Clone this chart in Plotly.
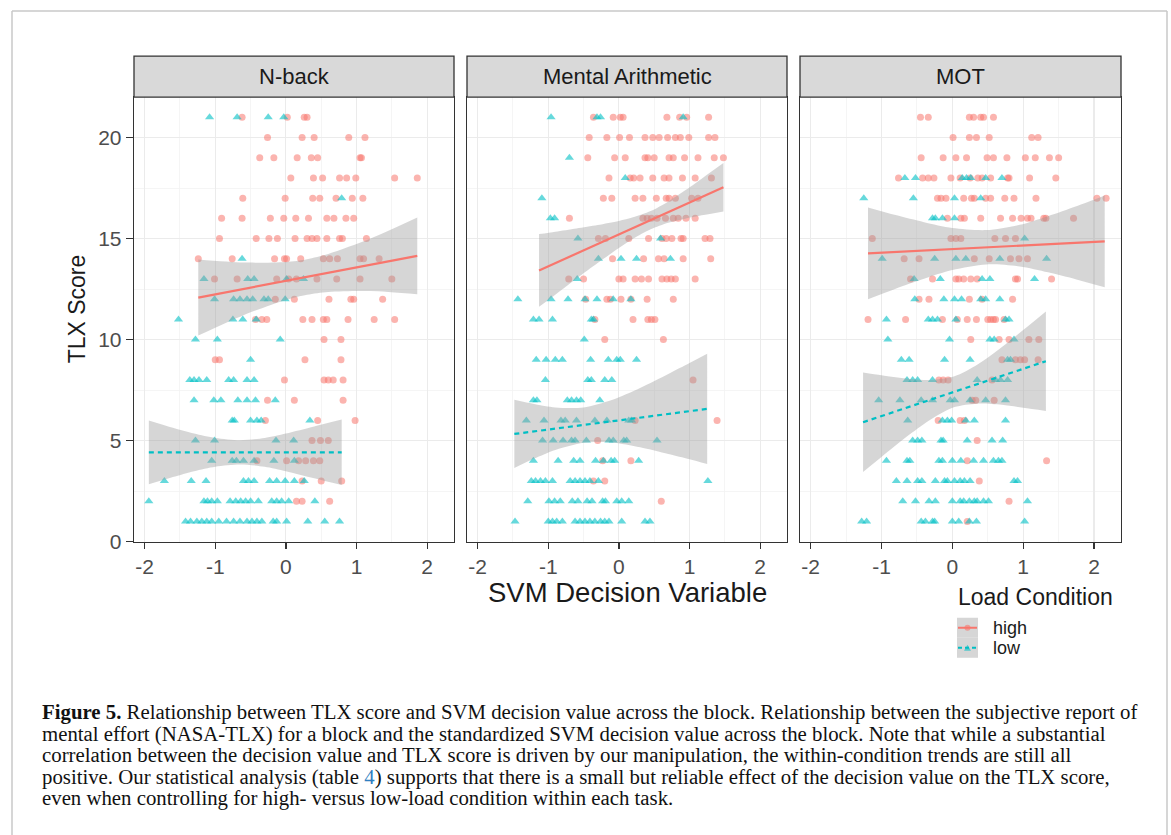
import plotly.graph_objects as go

W, H = 1171, 835          # reference picture size (target coordinates)
FIG_H = 847               # page height that the capture squeezes into 835 px

# ------------------------------------------------------------------ data
# points: {TLX score: [SVM decision values]}
NBACK_HIGH = {
    21: [-0.62, 0.02, 0.26, 0.30],
    20: [-0.26, 0.23, 0.40, 0.89, 1.12],
    19: [-0.37, -0.17, 0.16, 0.36, 0.45, 1.05, 1.07],
    18: [0.07, 0.39, 0.52, 0.76, 0.86, 0.99, 1.54, 1.86],
    17: [-0.61, -0.01, 0.38, 0.48, 0.71, 0.94, 1.09],
    16: [-0.91, -0.62, -0.22, -0.03, 0.14, 0.32, 0.58, 0.68, 0.85, 0.96],
    15: [-0.94, -0.42, -0.24, -0.12, 0.13, 0.30, 0.37, 0.44, 0.58, 0.76, 0.80, 1.14],
    14: [-1.24, -0.76, -0.16, -0.02, 0.01, 0.21, 0.53, 0.62, 0.73, 1.05, 1.10, 1.32],
    13: [-1.01, -0.69, -0.13, 0.04, 0.15, 0.44, 0.72, 1.05, 1.50],
    12: [-0.15, 0.12, 0.61, 0.92, 0.96, 1.37],
    11: [-0.43, -0.34, -0.27, 0.24, 0.37, 0.53, 0.58, 0.88, 1.25, 1.54],
    10: [0.54, 0.78],
    9: [-1.00, -0.94, 0.27, 0.78],
    8: [-0.02, 0.54, 0.60, 0.67, 0.81],
    7: [-0.26, 0.12, 0.81],
    6: [-0.29, 0.45, 0.98],
    5: [0.37, 0.49, 0.60],
    4: [-0.41, 0.01, 0.18, 0.28, 0.39, 0.48],
    3: [0.23, 0.50, 0.79],
    2: [0.15, 0.23, 0.62],
}
NBACK_LOW = {
    21: [-1.08, -0.69, -0.25, -0.03],
    17: [0.79],
    14: [-0.62],
    13: [-1.16, -0.54, -0.45, 0.01, 0.25],
    12: [-1.01, -0.74, -0.65, -0.55, -0.47, -0.31, -0.25, -0.01],
    11: [-1.52, -0.75, -0.61, -0.42],
    10: [-1.28, -0.97, -0.08],
    9: [-0.50],
    8: [-1.36, -1.30, -1.23, -1.12, -0.81, -0.74, -0.55, -0.45],
    7: [-1.30, -1.02, -0.92, -0.68, -0.55, -0.43, -0.15],
    6: [-0.76, -0.73, -0.50, -0.41, -0.35, 0.34],
    5: [-1.28, -1.01, -0.14, 0.11],
    4: [-1.05, -0.76, -0.70, -0.60, -0.45, -0.17, 0.12],
    3: [-1.72, -1.34, -1.13, -0.60, -0.53, -0.45, -0.23, -0.13, -0.01, 0.12, 0.26],
    2: [-1.94, -1.16, -1.11, -1.05, -0.97, -0.79, -0.71, -0.64, -0.57, -0.50,
        -0.39, -0.20, -0.13, -0.06, 0.04, 0.41],
    1: [-1.42, -1.35, -1.26, -1.19, -1.12, -1.05, -0.95, -0.84, -0.74, -0.65,
        -0.55, -0.48, -0.41, -0.34, -0.18, -0.13, 0.01, 0.31, 0.55, 0.76],
}
MA_HIGH = {
    21: [-0.36, -0.08, 0.02, 0.06, 0.68, 0.86, 0.96, 1.27],
    20: [-0.42, -0.17, 0.01, 0.15, 0.37, 0.48, 0.57, 0.69, 0.80, 0.87, 0.99, 1.27, 1.36],
    19: [-0.44, -0.06, 0.09, 0.37, 0.41, 0.50, 0.71, 0.77, 0.93, 1.12, 1.35, 1.48],
    18: [-0.14, 0.16, 0.21, 0.30, 0.48, 0.64, 0.71, 0.90, 1.08, 1.31],
    17: [-0.22, -0.10, 0.23, 0.34, 0.53, 0.67, 0.71, 0.80, 1.03, 1.12],
    16: [-0.70, 0.34, 0.40, 0.46, 0.54, 0.66, 0.77, 0.84, 0.95, 1.08],
    15: [-0.29, -0.19, 0.14, 0.42, 0.61, 0.67, 0.75, 0.88, 0.91, 1.22, 1.29],
    14: [-0.09, 0.35, 0.56, 0.64, 0.91, 1.30],
    13: [-0.71, -0.50, 0.00, 0.06, 0.23, 0.32, 0.42, 0.61, 0.68, 0.74, 0.80, 1.08],
    12: [-0.47, -0.17, -0.12, 0.03, 0.17, 0.40, 0.77],
    11: [-0.34, 0.20, 0.41, 0.46, 0.51],
    10: [-0.20, 0.63],
    8: [1.05],
    6: [0.23, 1.39],
    5: [-0.30],
    4: [-0.23, 0.17],
    3: [-0.36, -0.20],
    2: [0.60],
}
MA_LOW = {
    21: [-0.96, -0.31, -0.26, 0.91],
    19: [-0.70],
    18: [0.09],
    17: [-1.09],
    16: [-0.97, -0.91],
    15: [-0.58, 0.59],
    14: [-0.29, 0.03, 0.25, 0.73],
    13: [-0.59],
    12: [-1.43, -0.96, -0.72, -0.48, -0.31, -0.08, 0.17],
    11: [-1.21, -1.13, -0.94, -0.39, -0.36],
    10: [-0.49],
    9: [-1.17, -1.03, -0.90, -0.80, -0.40, -0.15, -0.03, 0.02, 0.25],
    8: [-1.04, -0.44, -0.39, -0.20, -0.10],
    7: [-1.21, -1.16, -0.73, -0.67, -0.60, -0.54, -0.27],
    6: [-1.31, -1.06, -0.82, -0.76, -0.60, -0.34, -0.17, 0.14, 0.18],
    5: [-1.08, -0.93, -0.79, -0.67, -0.62, -0.46, -0.14, -0.08, 0.07, 0.11, 0.54],
    4: [-1.21, -0.86, -0.64, -0.55, -0.33, -0.22, -0.11, -0.06, 0.28],
    3: [-1.24, -1.18, -1.11, -1.04, -0.94, -0.69, -0.62, -0.55, -0.48, -0.41, -0.29, 1.26],
    2: [-1.29, -0.99, -0.91, -0.83, -0.66, -0.58, -0.45, -0.38, -0.23, -0.19, -0.03, 0.04, 0.14],
    1: [-1.47, -1.00, -0.94, -0.88, -0.80, -0.62, -0.55, -0.48, -0.41, -0.34, -0.26,
        -0.20, -0.14, 0.04, 0.37, 0.44],
}
MOT_HIGH = {
    21: [-0.45, -0.34, 0.24, 0.30, 0.40, 0.44, 0.58],
    20: [0.01, 0.24, 0.34, 0.52, 1.12, 1.21],
    19: [-0.44, -0.13, 0.05, 0.20, 0.49, 0.58, 0.77, 1.03, 1.17, 1.37, 1.50],
    18: [-0.76, -0.42, -0.34, -0.26, -0.02, 0.11, 0.25, 0.36, 0.42, 0.54, 0.78, 0.80, 1.09, 1.46],
    17: [-0.21, -0.16, -0.09, 0.16, 0.27, 0.31, 0.47, 0.54, 0.74, 0.87, 1.18, 2.04, 2.17],
    16: [-0.07, 0.12, 0.17, 0.40, 0.68, 0.85, 0.97, 1.06, 1.11, 1.29, 1.32, 1.71],
    15: [-1.13, -0.02, 0.05, 0.12, 0.60, 0.75, 0.89],
    14: [-0.68, -0.47, 0.31, 0.52, 0.82, 0.94, 1.06],
    13: [-0.59, -0.28, 0.05, 0.09, 0.16, 0.26, 0.35, 0.89, 0.92, 1.40],
    12: [-0.47, -0.33, 0.24, 0.42, 0.85],
    11: [-1.19, -0.66, -0.14, 0.07, 0.21, 0.34, 0.50, 0.54, 0.58, 0.61, 0.73],
    10: [0.26, 0.66, 0.80, 1.08, 1.22],
    9: [0.70, 0.89, 0.96, 1.02, 1.21],
    8: [-0.19, -0.13, -0.06, 0.56],
    7: [0.28, 0.33, 0.59],
    6: [-0.20, 0.11, 0.17],
    5: [0.35],
    4: [0.21, 1.33],
    3: [0.38],
    2: [0.80],
    1: [0.21],
}
MOT_LOW = {
    18: [-0.67, -0.52, 0.14, 0.20, 0.26, 0.47, 0.70],
    17: [-1.25, -0.55, 0.03, 0.40],
    16: [-0.28, -0.24, -0.14, 0.03],
    15: [1.02],
    14: [-0.99, -0.25, 0.05, 0.19, 0.67, 1.33],
    13: [-0.54, -0.17, 0.42, 0.53, 1.16],
    12: [-0.53, -0.12, 0.03, 0.13, 0.40, 0.47, 0.67],
    11: [-0.93, -0.34, -0.28, -0.21, 0.05, 0.75, 0.80],
    10: [-0.91, -0.04, 0.53, 0.59, 0.87],
    9: [-0.72, -0.61, -0.11, 0.25, 0.78, 0.82],
    8: [-0.64, -0.56, -0.49, -0.28, 0.35, 0.61, 0.68, 0.78],
    7: [-1.04, -0.74, -0.44, -0.28, -0.03, 0.03, 0.25, 0.47, 0.75],
    6: [-0.63, -0.14, -0.07, -0.01, 0.19, 0.31, 0.75],
    5: [-0.56, -0.49, -0.43, -0.16, -0.13, 0.21, 0.56, 0.71],
    4: [-0.93, -0.64, -0.60, -0.19, -0.14, 0.00, 0.12, 0.30, 0.44, 0.58, 0.65, 0.70],
    3: [-0.79, -0.64, -0.49, -0.43, -0.24, -0.11, -0.07, 0.03, 0.11, 0.17, 0.25, 0.87, 0.92],
    2: [-0.70, -0.52, -0.33, -0.24, 0.00, 0.11, 0.16, 0.24, 0.31, 0.35, 0.44, 0.51, 1.06],
    1: [-1.28, -1.21, -0.44, -0.38, -0.28, -0.25, 0.00, 0.09, 0.24, 0.34, 1.02],
}

# fitted lines (lm) and 95% confidence bands
NBACK_HIGH_FIT_X = [-1.24, 1.86]
NBACK_HIGH_FIT_Y = [12.08, 14.14]
NBACK_HIGH_BAND_X = [-1.24, -0.6, 0.0, 0.3, 0.6, 1.2, 1.86]
NBACK_HIGH_BAND_LO = [10.20, 11.21, 11.96, 12.22, 12.36, 12.40, 12.24]
NBACK_HIGH_BAND_HI = [13.96, 13.81, 13.84, 13.98, 14.24, 15.00, 16.04]

NBACK_LOW_FIT_X = [-1.94, 0.79]
NBACK_LOW_FIT_Y = [4.42, 4.42]
NBACK_LOW_BAND_X = [-1.94, -1.6, -1.3, -1.0, -0.65, -0.3, 0.0, 0.4, 0.79]
NBACK_LOW_BAND_LO = [2.84, 3.20, 3.49, 3.71, 3.82, 3.71, 3.49, 3.14, 2.80]
NBACK_LOW_BAND_HI = [6.00, 5.64, 5.35, 5.13, 5.02, 5.13, 5.35, 5.70, 6.04]

MA_HIGH_FIT_X = [-1.13, 1.48]
MA_HIGH_FIT_Y = [13.42, 17.54]
MA_HIGH_BAND_X = [-1.13, -0.9, -0.6, -0.3, 0.0, 0.2, 0.45, 0.7, 0.95, 1.2, 1.48]
MA_HIGH_BAND_LO = [11.62, 12.22, 13.02, 13.79, 14.53, 14.99, 15.46, 15.78, 15.99, 16.16, 16.34]
MA_HIGH_BAND_HI = [15.22, 15.34, 15.50, 15.67, 15.87, 16.05, 16.36, 16.84, 17.41, 18.04, 18.74]

MA_LOW_FIT_X = [-1.48, 1.25]
MA_LOW_FIT_Y = [5.33, 6.57]
MA_LOW_BAND_X = [-1.48, -1.2, -0.9, -0.5, -0.1, 0.3, 0.7, 1.0, 1.25]
MA_LOW_BAND_LO = [3.64, 4.11, 4.54, 4.90, 4.91, 4.67, 4.34, 4.08, 3.84]
MA_LOW_BAND_HI = [7.02, 6.81, 6.64, 6.64, 7.01, 7.61, 8.30, 8.84, 9.30]

MOT_HIGH_FIT_X = [-1.19, 2.15]
MOT_HIGH_FIT_Y = [14.27, 14.86]
MOT_HIGH_BAND_X = [-1.19, -0.8, -0.4, 0.0, 0.48, 0.95, 1.35, 1.75, 2.15]
MOT_HIGH_BAND_LO = [12.00, 12.52, 13.01, 13.44, 13.72, 13.62, 13.33, 12.98, 12.59]
MOT_HIGH_BAND_HI = [16.54, 16.16, 15.81, 15.52, 15.42, 15.68, 16.11, 16.60, 17.13]

MOT_LOW_FIT_X = [-1.26, 1.32]
MOT_LOW_FIT_Y = [5.91, 8.93]
MOT_LOW_BAND_X = [-1.26, -1.0, -0.6, -0.3, 0.03, 0.35, 0.7, 1.0, 1.32]
MOT_LOW_BAND_LO = [3.45, 4.19, 5.31, 6.06, 6.66, 6.83, 6.77, 6.63, 6.47]
MOT_LOW_BAND_HI = [8.37, 8.23, 8.05, 8.00, 8.18, 8.75, 9.63, 10.47, 11.39]

PANEL_TITLES = ["N-back", "Mental Arithmetic", "MOT"]
X_TICKS = [-2, -1, 0, 1, 2]
Y_TICKS = [0, 5, 10, 15, 20]
LEGEND_LABELS = ["high", "low"]

CAPTION = [
    "<b>Figure 5.</b> Relationship between TLX score and SVM decision value across the block. "
    "Relationship between the subjective report of",
    "mental effort (NASA-TLX) for a block and the standardized SVM decision value across the block. "
    "Note that while a substantial",
    "correlation between the decision value and TLX score is driven by our manipulation, "
    "the within-condition trends are still all",
    "positive. Our statistical analysis (table <span style='color:#2f7fc1'>4</span>) supports that "
    "there is a small but reliable effect of the decision value on the TLX score,",
    "even when controlling for high- versus low-load condition within each task.",
]

# ------------------------------------------------------------------ style
HIGH_C = "#F8766D"
LOW_C = "#00BFC4"
BAND_C = "rgba(153,153,153,0.4)"
SANS = "Liberation Sans, Arial, sans-serif"
SERIF = "Liberation Serif, Times New Roman, serif"
XR = [-2.15, 2.38]
YR = [0, 22]

PANEL_PX = [(134, 454), (467, 787), (800, 1121)]
PANEL_TOP, PANEL_BOT, STRIP_TOP = 97, 541, 56


def px(x):
    return x / W


def py(y):
    return (H - y) / H


def rows_to_xy(rows):
    xs, ys = [], []
    for score, vals in rows.items():
        for v in vals:
            xs.append(v)
            ys.append(score)
    return xs, ys


panels = [
    (NBACK_HIGH, NBACK_LOW,
     (NBACK_HIGH_FIT_X, NBACK_HIGH_FIT_Y, NBACK_HIGH_BAND_X, NBACK_HIGH_BAND_LO, NBACK_HIGH_BAND_HI),
     (NBACK_LOW_FIT_X, NBACK_LOW_FIT_Y, NBACK_LOW_BAND_X, NBACK_LOW_BAND_LO, NBACK_LOW_BAND_HI)),
    (MA_HIGH, MA_LOW,
     (MA_HIGH_FIT_X, MA_HIGH_FIT_Y, MA_HIGH_BAND_X, MA_HIGH_BAND_LO, MA_HIGH_BAND_HI),
     (MA_LOW_FIT_X, MA_LOW_FIT_Y, MA_LOW_BAND_X, MA_LOW_BAND_LO, MA_LOW_BAND_HI)),
    (MOT_HIGH, MOT_LOW,
     (MOT_HIGH_FIT_X, MOT_HIGH_FIT_Y, MOT_HIGH_BAND_X, MOT_HIGH_BAND_LO, MOT_HIGH_BAND_HI),
     (MOT_LOW_FIT_X, MOT_LOW_FIT_Y, MOT_LOW_BAND_X, MOT_LOW_BAND_LO, MOT_LOW_BAND_HI)),
]

fig = go.Figure()
layout = dict(
    width=W, height=FIG_H, autosize=False,
    margin=dict(l=0, r=0, t=0, b=0),
    paper_bgcolor="white", plot_bgcolor="white",
    showlegend=False,
    font=dict(family=SANS, color="#4d4d4d"),
)

shapes = []
annotations = []

for i, (hi_rows, lo_rows, hi_fit, lo_fit) in enumerate(panels):
    n = "" if i == 0 else str(i + 1)
    xa, ya = "x" + n, "y" + n
    # points
    hx, hy = rows_to_xy(hi_rows)
    lx, ly = rows_to_xy(lo_rows)
    fig.add_trace(go.Scatter(x=hx, y=hy, mode="markers", xaxis=xa, yaxis=ya,
                             marker=dict(symbol="circle", size=7, color=HIGH_C, opacity=0.55),
                             hoverinfo="skip"))
    fig.add_trace(go.Scatter(x=lx, y=ly, mode="markers", xaxis=xa, yaxis=ya,
                             marker=dict(symbol="triangle-up", size=8, color=LOW_C, opacity=0.6),
                             hoverinfo="skip"))
    # smooths
    for fit, col, dash in ((hi_fit, HIGH_C, "solid"), (lo_fit, LOW_C, "5px,4px")):
        fx, fy, bx, blo, bhi = fit
        fig.add_trace(go.Scatter(x=bx, y=blo, mode="lines", xaxis=xa, yaxis=ya,
                                 line=dict(width=0, shape="spline", smoothing=0.8),
                                 hoverinfo="skip"))
        fig.add_trace(go.Scatter(x=bx, y=bhi, mode="lines", xaxis=xa, yaxis=ya,
                                 line=dict(width=0, shape="spline", smoothing=0.8),
                                 fill="tonexty", fillcolor=BAND_C, hoverinfo="skip"))
        fig.add_trace(go.Scatter(x=fx, y=fy, mode="lines", xaxis=xa, yaxis=ya,
                                 line=dict(color=col, width=2.2, dash=dash),
                                 hoverinfo="skip"))

    x0, x1 = PANEL_PX[i]
    layout["xaxis" + n] = dict(
        domain=[px(x0), px(x1)], anchor=ya, range=XR,
        tickmode="array", tickvals=X_TICKS, ticktext=[str(t) for t in X_TICKS],
        ticks="outside", ticklen=6, tickwidth=1.3, tickcolor="#333333",
        tickfont=dict(size=21, color="#4d4d4d", family=SANS),
        showgrid=True, gridcolor="#ebebeb", gridwidth=1.2,
        minor=dict(tickmode="array", tickvals=[-1.5, -0.5, 0.5, 1.5],
                   showgrid=True, gridcolor="#f2f2f2", gridwidth=0.8),
        zeroline=False, showline=True, mirror=True, linecolor="#333333", linewidth=1.3,
        fixedrange=True,
    )
    layout["yaxis" + n] = dict(
        domain=[py(PANEL_BOT), py(PANEL_TOP)], anchor=xa, range=YR,
        tickmode="array", tickvals=Y_TICKS, ticktext=[str(t) for t in Y_TICKS],
        showticklabels=(i == 0), ticks="outside" if i == 0 else "",
        ticklen=7, tickwidth=1.3, tickcolor="#333333",
        tickfont=dict(size=21, color="#4d4d4d", family=SANS),
        showgrid=True, gridcolor="#ebebeb", gridwidth=1.2,
        minor=dict(tickmode="array", tickvals=[2.5, 7.5, 12.5, 17.5],
                   showgrid=True, gridcolor="#f2f2f2", gridwidth=0.8),
        zeroline=False, showline=True, mirror=True, linecolor="#333333", linewidth=1.3,
        fixedrange=True,
    )
    # strip
    shapes.append(dict(type="rect", xref="paper", yref="paper",
                       x0=px(x0), x1=px(x1), y0=py(PANEL_TOP), y1=py(STRIP_TOP),
                       fillcolor="#d9d9d9", line=dict(color="#333333", width=1.3), layer="above"))
    annotations.append(dict(text=PANEL_TITLES[i], xref="paper", yref="paper",
                            x=px((x0 + x1) / 2), y=py((STRIP_TOP + PANEL_TOP) / 2),
                            xanchor="center", yanchor="middle", showarrow=False,
                            font=dict(size=22, color="#1a1a1a", family=SANS)))

# axis titles
annotations.append(dict(text="SVM Decision Variable", xref="paper", yref="paper",
                        x=px(627), y=py(592), xanchor="center", yanchor="middle",
                        showarrow=False, font=dict(size=27.5, color="#1a1a1a", family=SANS)))
annotations.append(dict(text="TLX Score", xref="paper", yref="paper",
                        x=px(77), y=py(309), xanchor="center", yanchor="middle", textangle=-90,
                        showarrow=False, font=dict(size=23, color="#1a1a1a", family=SANS)))

# legend
annotations.append(dict(text="Load Condition", xref="paper", yref="paper",
                        x=px(956), y=py(596), xanchor="left", yanchor="middle",
                        showarrow=False, font=dict(size=23, color="#1a1a1a", family=SANS)))
for k, (lab, col) in enumerate(zip(LEGEND_LABELS, [HIGH_C, LOW_C])):
    top = 617 + 20 * k
    shapes.append(dict(type="rect", xref="paper", yref="paper",
                       x0=px(957), x1=px(978), y0=py(top + 20), y1=py(top),
                       fillcolor="#d6d6d6", line=dict(width=0)))
    shapes.append(dict(type="line", xref="paper", yref="paper",
                       x0=px(958), x1=px(977), y0=py(top + 10), y1=py(top + 10),
                       line=dict(color=col, width=2, dash="solid" if k == 0 else "4px,3px")))
    if k == 0:
        shapes.append(dict(type="circle", xref="paper", yref="paper",
                           x0=px(964.5), x1=px(970.5), y0=py(top + 13), y1=py(top + 7),
                           fillcolor=col, opacity=0.6, line=dict(width=0)))
    else:
        shapes.append(dict(type="path", xref="paper", yref="paper",
                           path=f"M {px(964)} {py(top + 13)} L {px(971)} {py(top + 13)} "
                                f"L {px(967.5)} {py(top + 7)} Z",
                           fillcolor=col, opacity=0.6, line=dict(width=0)))
    annotations.append(dict(text=lab, xref="paper", yref="paper",
                            x=px(991), y=py(top + 10), xanchor="left", yanchor="middle",
                            showarrow=False, font=dict(size=18, color="#1a1a1a", family=SANS)))

# caption
for j, line in enumerate(CAPTION):
    yc = [711, 733, 754, 776, 797][j]
    annotations.append(dict(text=line, xref="paper", yref="paper",
                            x=px(40), y=py(yc), xanchor="left", yanchor="middle",
                            showarrow=False, align="left",
                            font=dict(size=20.8, color="#111111", family=SERIF)))

# outer frame (page box)
for (a, b, c, d) in [(12, 11, 1167, 11), (12, 11, 12, 845), (1167, 11, 1167, 845)]:
    shapes.append(dict(type="line", xref="paper", yref="paper",
                       x0=px(a), y0=max(py(b), -0.01), x1=px(c), y1=max(py(d), -0.01),
                       line=dict(color="#c8c8c8", width=1.5)))

layout["shapes"] = shapes
layout["annotations"] = annotations
fig.update_layout(**layout)

POST = """
var de=document.documentElement, b=document.body;
de.style.margin='0'; de.style.padding='0'; de.style.overflow='hidden';
b.style.margin='0'; b.style.padding='0'; b.style.overflow='hidden';
"""
fig.write_html("out.html", config={"displayModeBar": False, "staticPlot": True},
               post_script=POST)
